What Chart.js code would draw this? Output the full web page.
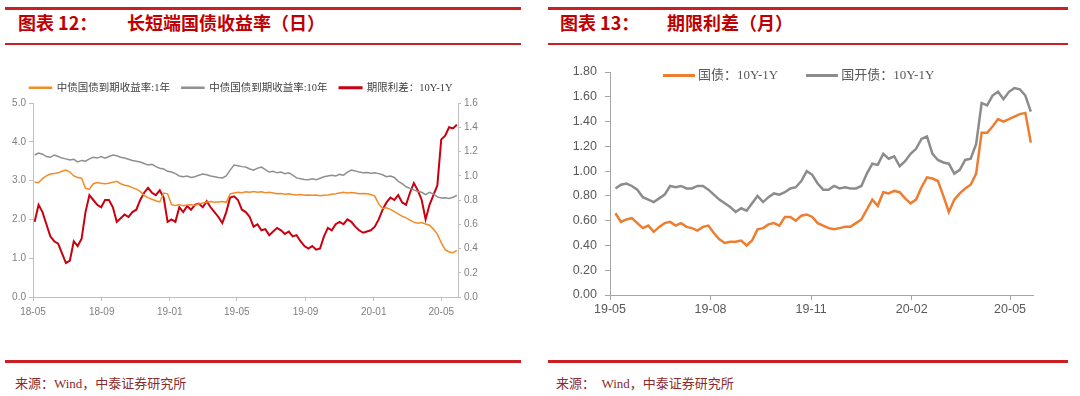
<!DOCTYPE html>
<html>
<head>
<meta charset="utf-8">
<script src="https://cdn.jsdelivr.net/npm/chart.js@4.4.1/dist/chart.umd.min.js"></script>
<style>
  body { margin: 0; background: #fff; width: 1080px; height: 396px; position: relative; overflow: hidden; font-family: "Noto Sans CJK SC", sans-serif; }
  .rule { position: absolute; background: #CC1F24; }
  .title { position: absolute; top: 9px; color: #C00000; font-weight: bold; font-size: 18px; line-height: 26px; white-space: pre; }
  .source { position: absolute; top: 373px; font-family: "Liberation Serif", "Noto Sans CJK SC", serif; font-size: 13px; color: #8B2B2B; white-space: pre; }
  canvas { position: absolute; top: 50px; }
  #spreadLegend { position: absolute; left: 663px; top: 67px; display: flex; align-items: center; font-family: "Liberation Serif", "Noto Sans CJK SC", serif; font-size: 13px; line-height: 16px; color: #595959; white-space: pre; }
  #spreadLegend .item { display: flex; align-items: center; margin-right: 28px; }
  #spreadLegend .swatch { display: inline-block; width: 32px; height: 3px; margin-right: 3px; }
</style>
</head>
<body>
<div class="rule" style="left:5px;top:7px;width:516px;height:3px"></div>
<div class="rule" style="left:5px;top:43px;width:516px;height:2px"></div>
<div class="title" style="left:18px">图表 12：</div>
<div class="title" style="left:127px">长短端国债收益率（日）</div>

<div class="rule" style="left:548px;top:7px;width:520px;height:3px"></div>
<div class="rule" style="left:548px;top:43px;width:520px;height:2px"></div>
<div class="title" style="left:560px">图表 13：</div>
<div class="title" style="left:667px">期限利差（月）</div>

<canvas id="yieldChart" width="540" height="280" style="left:0"></canvas>
<canvas id="spreadChart" width="540" height="280" style="left:540px"></canvas>
<div id="spreadLegend"></div>

<div class="rule" style="left:5px;top:360px;width:516px;height:3px"></div>
<div class="rule" style="left:548px;top:360px;width:520px;height:3px"></div>
<div class="source" style="left:15px">来源：Wind，中泰证券研究所</div>
<div class="source" style="left:556px">来源：  Wind，中泰证券研究所</div>

<script>
// 图表12：周度取样，从 2018-05-04 起每 7 天一个点
const yieldFirstDate = '2018-05-04';
const yieldStepDays = 7;
const yieldAxisStart = '2018-05-01';
const yieldAxisEnd = '2020-05-31';
const yieldTickLabels = ['18-05', '18-09', '19-01', '19-05', '19-09', '20-01', '20-05'];

// 中债国债到期收益率:1年
const yield1Y = [
  2.96, 2.95, 3.05, 3.12, 3.17, 3.18, 3.20, 3.24, 3.27, 3.22,
  3.12, 3.08, 3.06, 2.80, 2.78, 2.92, 2.95, 2.93, 2.92, 2.93,
  2.96, 2.98, 2.92, 2.88, 2.86, 2.82, 2.78, 2.72, 2.62, 2.56,
  2.52, 2.48, 2.45, 2.68, 2.66, 2.38, 2.36, 2.38, 2.35, 2.37,
  2.38, 2.36, 2.40, 2.42, 2.45, 2.46, 2.44, 2.45, 2.46, 2.44,
  2.66, 2.68, 2.70, 2.69, 2.71, 2.70, 2.72, 2.70, 2.71, 2.69,
  2.70, 2.68, 2.66, 2.67, 2.65, 2.66, 2.64, 2.63, 2.64, 2.62,
  2.63, 2.62, 2.63, 2.61, 2.62, 2.63, 2.65, 2.66, 2.68, 2.70,
  2.68, 2.69, 2.68, 2.66, 2.67, 2.66, 2.64, 2.60, 2.40, 2.28,
  2.30, 2.26, 2.20, 2.14, 2.08, 2.04, 1.98, 1.93, 1.90, 1.92,
  1.88, 1.85, 1.75, 1.62, 1.40, 1.22, 1.16, 1.14, 1.20
];

// 中债国债到期收益率:10年
const yield10Y = [
  3.66, 3.71, 3.68, 3.62, 3.60, 3.66, 3.62, 3.58, 3.56, 3.53,
  3.55, 3.48, 3.52, 3.50, 3.56, 3.60, 3.58, 3.62, 3.58, 3.62,
  3.66, 3.64, 3.60, 3.58, 3.55, 3.52, 3.50, 3.48, 3.44, 3.40,
  3.42, 3.36, 3.32, 3.30, 3.24, 3.22, 3.18, 3.12, 3.10, 3.12,
  3.08, 3.10, 3.14, 3.17, 3.15, 3.12, 3.10, 3.08, 3.07, 3.12,
  3.27, 3.40, 3.38, 3.36, 3.35, 3.30, 3.27, 3.32, 3.35, 3.28,
  3.22, 3.24, 3.20, 3.22, 3.18, 3.20, 3.14, 3.07, 3.05, 3.03,
  3.02, 3.05, 3.02, 3.06, 3.10, 3.12, 3.14, 3.12, 3.16, 3.14,
  3.22, 3.27, 3.25, 3.22, 3.20, 3.21, 3.19, 3.20, 3.18, 3.15,
  3.10, 3.12, 3.08, 2.98, 2.92, 2.84, 2.80, 2.76, 2.72, 2.70,
  2.64, 2.70, 2.66, 2.58, 2.55, 2.56, 2.54, 2.57, 2.62
];

// 期限利差：10Y-1Y（右轴）
const termSpread = [
  0.62, 0.76, 0.70, 0.60, 0.50, 0.46, 0.44, 0.36, 0.28, 0.30,
  0.46, 0.42, 0.48, 0.70, 0.84, 0.80, 0.76, 0.74, 0.80, 0.80,
  0.74, 0.62, 0.65, 0.68, 0.66, 0.70, 0.72, 0.80, 0.86, 0.90,
  0.86, 0.84, 0.88, 0.82, 0.62, 0.64, 0.62, 0.74, 0.70, 0.75,
  0.72, 0.76, 0.77, 0.74, 0.79, 0.74, 0.70, 0.66, 0.61, 0.70,
  0.82, 0.83, 0.80, 0.72, 0.70, 0.66, 0.58, 0.60, 0.55, 0.56,
  0.51, 0.54, 0.57, 0.55, 0.52, 0.54, 0.50, 0.51, 0.46, 0.42,
  0.40, 0.42, 0.39, 0.40, 0.50, 0.57, 0.55, 0.60, 0.62, 0.60,
  0.64, 0.62, 0.58, 0.55, 0.53, 0.54, 0.55, 0.58, 0.64, 0.72,
  0.78, 0.82, 0.80, 0.84, 0.78, 0.76, 0.86, 0.94, 0.88, 0.80,
  0.64, 0.76, 0.84, 0.92, 1.30, 1.33, 1.40, 1.39, 1.42
];

// 图表13：每 5 天取一个点，从 2019-05-06 起
const spreadFirstDate = '2019-05-06';
const spreadStepDays = 5;
const spreadAxisStart = '2019-05-01';
const spreadAxisEnd = '2020-05-22';
const spreadTickLabels = ['19-05', '19-08', '19-11', '20-02', '20-05'];

// 国债：10Y-1Y
const cgbSpread = [
  0.66, 0.59, 0.61, 0.62, 0.58, 0.54, 0.56, 0.51, 0.55, 0.58,
  0.59, 0.56, 0.58, 0.55, 0.54, 0.52, 0.55, 0.56, 0.50, 0.45,
  0.42, 0.43, 0.43, 0.44, 0.40, 0.44, 0.53, 0.54, 0.57, 0.58,
  0.56, 0.63, 0.63, 0.60, 0.64, 0.65, 0.63, 0.58, 0.56, 0.54,
  0.53, 0.54, 0.55, 0.55, 0.58, 0.61, 0.69, 0.77, 0.72, 0.83,
  0.82, 0.84, 0.83, 0.78, 0.74, 0.77, 0.87, 0.95, 0.94, 0.92,
  0.80, 0.67, 0.77, 0.82, 0.86, 0.89, 0.98, 1.31, 1.31, 1.36,
  1.42, 1.40, 1.42, 1.44, 1.46, 1.47, 1.23
];

// 国开债：10Y-1Y
const cdbSpread = [
  0.86, 0.89, 0.90, 0.88, 0.85, 0.79, 0.77, 0.75, 0.78, 0.81,
  0.88, 0.87, 0.88, 0.86, 0.86, 0.88, 0.88, 0.85, 0.81, 0.77,
  0.74, 0.71, 0.67, 0.70, 0.68, 0.74, 0.80, 0.75, 0.79, 0.82,
  0.81, 0.83, 0.86, 0.87, 0.92, 1.00, 0.97, 0.90, 0.85, 0.85,
  0.88, 0.86, 0.87, 0.86, 0.86, 0.88, 0.98, 1.06, 1.05, 1.14,
  1.10, 1.12, 1.04, 1.08, 1.14, 1.18, 1.26, 1.28, 1.14, 1.09,
  1.07, 1.06, 0.98, 1.01, 1.09, 1.10, 1.22, 1.55, 1.53, 1.61,
  1.64, 1.58, 1.64, 1.67, 1.66, 1.61, 1.48
];

const DAY_MS = 86400000;

function daysBetween(fromStr, toStr) {
  return Math.round((Date.parse(toStr) - Date.parse(fromStr)) / DAY_MS);
}

// '18-05' -> 距离坐标起点的天数（取当月1日）
function tickDay(label, axisStart) {
  return daysBetween(axisStart, '20' + label + '-01');
}

function toPoints(values, firstDate, step, axisStart) {
  const d0 = daysBetween(axisStart, firstDate);
  return values.map(function (v, i) {
    return { x: d0 + i * step, y: v };
  });
}

const latinCjk = "'Liberation Serif', 'Noto Sans CJK SC', serif";

// 图例画在图里面（HTML 图例，按数据集生成）
const htmlLegend = {
  id: 'htmlLegend',
  afterUpdate: function (chart, args, opts) {
    const box = document.getElementById(opts.containerID);
    if (!box) return;
    box.innerHTML = '';
    chart.data.datasets.forEach(function (ds) {
      const item = document.createElement('span');
      item.className = 'item';
      const swatch = document.createElement('span');
      swatch.className = 'swatch';
      swatch.style.background = ds.borderColor;
      const text = document.createElement('span');
      text.textContent = ds.label;
      item.appendChild(swatch);
      item.appendChild(text);
      box.appendChild(item);
    });
  }
};

// ---------- 图表12 ----------
const yieldTicks = yieldTickLabels.map(function (l) { return tickDay(l, yieldAxisStart); });

new Chart(document.getElementById('yieldChart').getContext('2d'), {
  type: 'line',
  data: {
    datasets: [
      {
        label: '中债国债到期收益率:1年',
        data: toPoints(yield1Y, yieldFirstDate, yieldStepDays, yieldAxisStart),
        borderColor: '#F28C28',
        backgroundColor: '#F28C28',
        borderWidth: 1.5,
        yAxisID: 'y'
      },
      {
        label: '中债国债到期收益率:10年',
        data: toPoints(yield10Y, yieldFirstDate, yieldStepDays, yieldAxisStart),
        borderColor: '#8F8F8F',
        backgroundColor: '#8F8F8F',
        borderWidth: 1.5,
        yAxisID: 'y'
      },
      {
        label: '期限利差：10Y-1Y',
        data: toPoints(termSpread, yieldFirstDate, yieldStepDays, yieldAxisStart),
        borderColor: '#C8000F',
        backgroundColor: '#C8000F',
        borderWidth: 2,
        yAxisID: 'y1'
      }
    ]
  },
  options: {
    responsive: false,
    animation: false,
    elements: { point: { radius: 0 }, line: { tension: 0 } },
    // 右侧留白让图例居中于绘图区上方
    layout: { padding: { top: 5, right: 58 } },
    plugins: {
      tooltip: { enabled: false },
      legend: {
        position: 'top',
        labels: {
          boxWidth: 22,
          boxHeight: 1,
          padding: 12,
          color: '#404040',
          font: { size: 10.5, family: latinCjk }
        }
      }
    },
    scales: {
      x: {
        type: 'linear',
        min: 0,
        max: daysBetween(yieldAxisStart, yieldAxisEnd),
        afterBuildTicks: function (scale) {
          scale.ticks = yieldTicks.map(function (v) { return { value: v }; });
        },
        ticks: {
          autoSkip: false,
          maxRotation: 0,
          padding: 5,
          color: '#808080',
          font: { size: 10, family: 'Liberation Sans' },
          callback: function (value, index) { return yieldTickLabels[index]; }
        },
        grid: { drawOnChartArea: false, tickLength: 4, color: '#BFBFBF' },
        border: { color: '#BFBFBF' },
        afterFit: function (scale) { scale.height = 33; }
      },
      y: {
        position: 'left',
        min: 0,
        max: 5,
        ticks: {
          stepSize: 1,
          padding: 3,
          color: '#808080',
          font: { size: 10, family: 'Liberation Sans' },
          callback: function (v) { return v.toFixed(1); }
        },
        grid: { drawOnChartArea: false, tickLength: 4, color: '#BFBFBF' },
        border: { color: '#BFBFBF' },
        afterFit: function (scale) { scale.width = 33; scale.paddingTop = 53; }
      },
      y1: {
        position: 'right',
        min: 0,
        max: 1.6,
        ticks: {
          stepSize: 0.2,
          padding: 3,
          color: '#808080',
          font: { size: 10, family: 'Liberation Sans' },
          callback: function (v) { return v.toFixed(1); }
        },
        grid: { drawOnChartArea: false, tickLength: 3, color: '#BFBFBF' },
        border: { color: '#BFBFBF' },
        afterFit: function (scale) { scale.width = 24; }
      }
    }
  }
});

// ---------- 图表13 ----------
const spreadTicks = spreadTickLabels.map(function (l) { return tickDay(l, spreadAxisStart); });

new Chart(document.getElementById('spreadChart').getContext('2d'), {
  type: 'line',
  data: {
    datasets: [
      {
        label: '国债：10Y-1Y',
        data: toPoints(cgbSpread, spreadFirstDate, spreadStepDays, spreadAxisStart),
        borderColor: '#ED7D31',
        backgroundColor: '#ED7D31',
        borderWidth: 2.5
      },
      {
        label: '国开债：10Y-1Y',
        data: toPoints(cdbSpread, spreadFirstDate, spreadStepDays, spreadAxisStart),
        borderColor: '#8C8C8C',
        backgroundColor: '#8C8C8C',
        borderWidth: 2.5
      }
    ]
  },
  plugins: [htmlLegend],
  options: {
    responsive: false,
    animation: false,
    elements: { point: { radius: 0 }, line: { tension: 0 } },
    layout: { padding: { right: 47 } },
    plugins: {
      tooltip: { enabled: false },
      legend: { display: false },
      htmlLegend: { containerID: 'spreadLegend' }
    },
    scales: {
      x: {
        type: 'linear',
        min: 0,
        max: daysBetween(spreadAxisStart, spreadAxisEnd),
        afterBuildTicks: function (scale) {
          scale.ticks = spreadTicks.map(function (v) { return { value: v }; });
        },
        ticks: {
          autoSkip: false,
          maxRotation: 0,
          padding: 2,
          color: '#595959',
          font: { size: 12.5, family: 'Liberation Sans' },
          callback: function (value, index) { return spreadTickLabels[index]; }
        },
        grid: { drawOnChartArea: false, tickLength: 5, color: '#A6A6A6' },
        border: { color: '#A6A6A6' },
        afterFit: function (scale) { scale.height = 35; }
      },
      y: {
        min: 0,
        max: 1.8,
        ticks: {
          stepSize: 0.2,
          padding: 8,
          color: '#595959',
          font: { size: 12.5, family: 'Liberation Sans' },
          callback: function (v) { return v.toFixed(2); }
        },
        grid: { drawOnChartArea: false, tickLength: 5, color: '#A6A6A6' },
        border: { color: '#A6A6A6' },
        afterFit: function (scale) { scale.width = 70; scale.paddingTop = 22; }
      }
    }
  }
});
</script>
</body>
</html>
